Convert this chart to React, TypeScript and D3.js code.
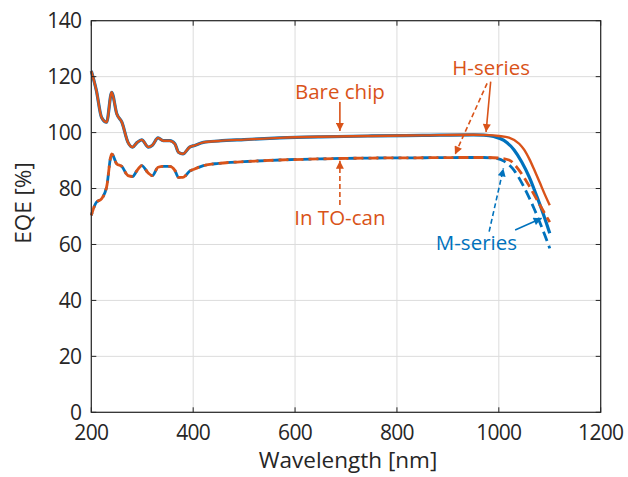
import React, { useEffect, useRef } from 'react'
import * as d3 from 'd3'

// shared part of the spectrum (H and M series overlap here)
const lambdaBase = [200, 210, 220, 230, 240, 250, 260, 272, 281, 290, 299, 312, 320, 331, 341, 354, 364, 371, 380, 393, 403, 420, 450, 500, 570, 650, 750, 850, 950]
const bareBase = [122, 115, 105.5, 103.7, 114.4, 106.7, 103.7, 96.5, 94.8, 96.5, 97.4, 94.8, 95.5, 98.1, 97.1, 97.1, 96, 93, 92.4, 94.8, 95.4, 96.5, 97, 97.5, 98.1, 98.5, 98.8, 99, 99.2]
const canBase = [70.4, 75.1, 76.3, 80.5, 92.4, 88.8, 87.9, 84.6, 84.3, 86.5, 88.2, 85.5, 84.6, 87.6, 87.9, 87.9, 86.5, 84, 84, 86.2, 87, 88.2, 89, 89.6, 90.2, 90.6, 90.9, 91, 91.1]

// long-wavelength tails
const hBareLambda = [980, 1000, 1020, 1040, 1050, 1060, 1070, 1080, 1090, 1100]
const hBareTail = [99.1, 98.8, 98.2, 96, 93.8, 90.5, 86.5, 82.3, 78, 74]
const mBareLambda = [970, 990, 1010, 1030, 1045, 1060, 1075, 1090, 1100]
const mBareTail = [99.1, 98.6, 97.2, 93.8, 89.5, 84, 77, 69.5, 64]
const hCanLambda = [980, 1000, 1020, 1040, 1060, 1080, 1100]
const hCanTail = [91.1, 90.9, 90.2, 86.5, 80.8, 74.3, 68]
const mCanLambda = [970, 990, 1010, 1030, 1050, 1070, 1090, 1100]
const mCanTail = [91.1, 90.9, 89.8, 86.5, 80.3, 72.5, 63.5, 58.6]

const xTicks = [200, 400, 600, 800, 1000, 1200]
const yTicks = [0, 20, 40, 60, 80, 100, 120, 140]

const ORANGE = '#D95319'
const BLUE = '#0072BD'

export default function App() {
    const svgRef = useRef(null)

    useEffect(() => {
        const w = 628
        const h = 477
        const svg = d3.select(svgRef.current)
        svg.selectAll('*').remove()

        const x = d3.scaleLinear().domain([200, 1200]).range([91.3, 600.7])
        const y = d3.scaleLinear().domain([0, 140]).range([412.3, 20.7])

        const font = "'Open Sans', sans-serif"

        // grid
        const grid = svg.append('g')
        grid.selectAll('.gx').data(xTicks).join('line')
            .attr('x1', d => x(d)).attr('x2', d => x(d))
            .attr('y1', y(0)).attr('y2', y(140))
            .attr('stroke', '#dcdcdc').attr('stroke-width', 1)
        grid.selectAll('.gy').data(yTicks).join('line')
            .attr('y1', d => y(d)).attr('y2', d => y(d))
            .attr('x1', x(200)).attr('x2', x(1200))
            .attr('stroke', '#dcdcdc').attr('stroke-width', 1)

        // series
        const pts = (lx, ly) => lx.map((l, i) => [l, ly[i]])
        const line = d3.line()
            .x(d => x(d[0]))
            .y(d => y(d[1]))
            .curve(d3.curveMonotoneX)

        const mBare = pts(lambdaBase, bareBase).concat(pts(mBareLambda, mBareTail))
        const hBare = pts(lambdaBase, bareBase).concat(pts(hBareLambda, hBareTail))
        const mCan = pts(lambdaBase, canBase).concat(pts(mCanLambda, mCanTail))
        const hCan = pts(lambdaBase, canBase).concat(pts(hCanLambda, hCanTail))

        const plot = svg.append('g')
        plot.append('path').attr('d', line(mBare)).attr('fill', 'none')
            .attr('stroke', BLUE).attr('stroke-width', 3.2)
        plot.append('path').attr('d', line(hBare)).attr('fill', 'none')
            .attr('stroke', ORANGE).attr('stroke-width', 2.4)
        plot.append('path').attr('d', line(mCan)).attr('fill', 'none')
            .attr('stroke', BLUE).attr('stroke-width', 2.8)
            .attr('stroke-dasharray', '10,5').attr('stroke-dashoffset', 7)
        plot.append('path').attr('d', line(hCan)).attr('fill', 'none')
            .attr('stroke', ORANGE).attr('stroke-width', 2.8)
            .attr('stroke-dasharray', '10,5')

        // axes box with inward ticks
        const ax = svg.append('g').attr('font-family', font)
        ax.append('rect')
            .attr('x', x(200)).attr('y', y(140))
            .attr('width', x(1200) - x(200)).attr('height', y(0) - y(140))
            .attr('fill', 'none').attr('stroke', '#262626').attr('stroke-width', 1.2)
        xTicks.forEach(t => {
            ax.append('line').attr('x1', x(t)).attr('x2', x(t)).attr('y1', y(0)).attr('y2', y(0) - 5).attr('stroke', '#262626')
            ax.append('line').attr('x1', x(t)).attr('x2', x(t)).attr('y1', y(140)).attr('y2', y(140) + 5).attr('stroke', '#262626')
            ax.append('text').attr('x', x(t)).attr('y', y(0) + 28)
                .attr('text-anchor', 'middle').attr('font-size', 21).attr('fill', '#262626')
                .attr('letter-spacing', -0.7)
                .text(t)
        })
        yTicks.forEach(t => {
            ax.append('line').attr('y1', y(t)).attr('y2', y(t)).attr('x1', x(200)).attr('x2', x(200) + 5).attr('stroke', '#262626')
            ax.append('line').attr('y1', y(t)).attr('y2', y(t)).attr('x1', x(1200)).attr('x2', x(1200) - 5).attr('stroke', '#262626')
            ax.append('text').attr('x', x(200) - 10).attr('y', y(t)).attr('dy', '0.36em')
                .attr('text-anchor', 'end').attr('font-size', 21).attr('fill', '#262626')
                .attr('letter-spacing', -0.7)
                .text(t)
        })
        ax.append('text').attr('x', 348).attr('y', 468)
            .attr('text-anchor', 'middle').attr('font-size', 22.5).attr('fill', '#262626')
            .text('Wavelength [nm]')
        ax.append('text').attr('transform', 'translate(31,203) rotate(-90)')
            .attr('text-anchor', 'middle').attr('font-size', 22.5).attr('fill', '#262626')
            .text('EQE [%]')

        // annotations (data coordinates)
        const defs = svg.append('defs')
        ;[['o', ORANGE], ['b', BLUE]].forEach(([id, c]) => {
            defs.append('marker').attr('id', 'head-' + id)
                .attr('viewBox', '0 0 10 10').attr('refX', 10).attr('refY', 5)
                .attr('markerUnits', 'userSpaceOnUse')
                .attr('markerWidth', 10).attr('markerHeight', 8)
                .attr('orient', 'auto')
                .append('path').attr('d', 'M0,0 L10,5 L0,10 Z').attr('fill', c)
        })

        const arrows = [
            { from: [688, 110.9], to: [688, 100.6], c: ORANGE, m: 'o', dash: false },
            { from: [688, 74.1], to: [688, 89.9], c: ORANGE, m: 'o', dash: true },
            { from: [984, 118.2], to: [975, 100.2], c: ORANGE, m: 'o', dash: false },
            { from: [977, 117.6], to: [914, 92.2], c: ORANGE, m: 'o', dash: true },
            { from: [981, 64.6], to: [1009, 87.2], c: BLUE, m: 'b', dash: true },
            { from: [1032, 65.2], to: [1084, 69.4], c: BLUE, m: 'b', dash: false },
        ]
        const ann = svg.append('g')
        arrows.forEach(a => {
            ann.append('line')
                .attr('x1', x(a.from[0])).attr('y1', y(a.from[1]))
                .attr('x2', x(a.to[0])).attr('y2', y(a.to[1]))
                .attr('stroke', a.c).attr('stroke-width', 1.6)
                .attr('stroke-dasharray', a.dash ? '5,3' : null)
                .attr('marker-end', `url(#head-${a.m})`)
        })

        const labels = [
            { t: 'Bare chip', at: [688, 114.6], c: ORANGE },
            { t: 'In TO-can', at: [688, 69.5], c: ORANGE },
            { t: 'H-series', at: [985, 123.1], c: ORANGE },
            { t: 'M-series', at: [956, 60.5], c: BLUE },
        ]
        ann.selectAll('text').data(labels).join('text')
            .attr('x', d => x(d.at[0])).attr('y', d => y(d.at[1]))
            .attr('dy', '0.35em').attr('text-anchor', 'middle')
            .attr('font-family', font).attr('font-size', 20.5)
            .attr('fill', d => d.c)
            .text(d => d.t)

        svg.attr('width', w).attr('height', h)
    }, [])

    return (
        <svg ref={svgRef} width={628} height={477}
            style={{ position: 'absolute', left: 0, top: 0, background: 'white' }} />
    )
}
